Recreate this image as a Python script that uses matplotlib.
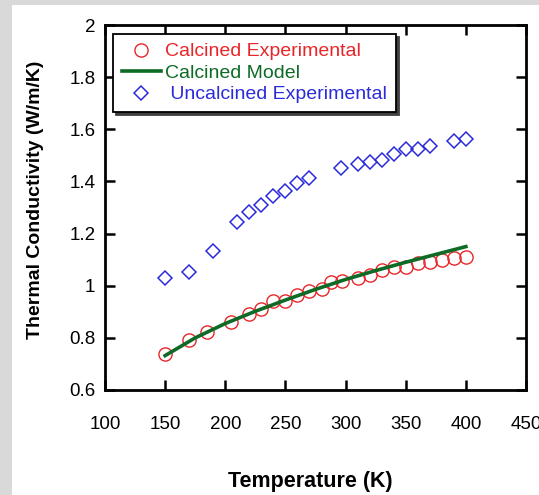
import matplotlib
matplotlib.use("Agg")
import matplotlib.pyplot as plt
from matplotlib.patches import Rectangle
from matplotlib.ticker import FormatStrFormatter

plt.rcParams['font.family'] = ['Liberation Sans', 'DejaVu Sans']

# calcined samples, measured
calc_T = [150, 170, 185, 205, 220, 230, 240, 250, 260, 270, 280, 288,
          297, 310, 320, 330, 340, 350, 360, 370, 380, 390, 400]
calc_k = [0.739, 0.791, 0.821, 0.860, 0.890, 0.909, 0.941, 0.940, 0.963,
          0.981, 0.987, 1.013, 1.020, 1.028, 1.040, 1.061, 1.072, 1.071,
          1.087, 1.092, 1.100, 1.108, 1.112]

# calcined model curve
model_T = [150, 175, 200, 225, 250, 275, 300, 325, 350, 375, 400]
model_k = [0.732, 0.800, 0.855, 0.902, 0.945, 0.986, 1.024, 1.058, 1.090,
           1.120, 1.150]

# uncalcined samples, measured
unc_T = [150, 170, 190, 210, 220, 230, 240, 250, 260, 270, 296, 310, 320,
         330, 340, 350, 360, 370, 390, 400]
unc_k = [1.031, 1.052, 1.132, 1.243, 1.284, 1.311, 1.343, 1.365, 1.393,
         1.414, 1.453, 1.466, 1.474, 1.484, 1.506, 1.523, 1.523, 1.534,
         1.556, 1.564]

x_ticks = [100, 150, 200, 250, 300, 350, 400, 450]
y_ticks = [0.6, 0.8, 1.0, 1.2, 1.4, 1.6, 1.8, 2.0]

labels = ['Calcined Experimental', 'Calcined Model', ' Uncalcined Experimental']
red = '#e8262a'
green = '#0d6b26'
blue = '#2b2bdc'

fig = plt.figure(figsize=(5.39, 4.95), dpi=100, facecolor='#d9d9d9')
# white page area (grey strip left and top like the screenshot)
fig.patches.append(Rectangle((12 / 539, 0), 1, 1 - 5 / 495,
                             transform=fig.transFigure, facecolor='white',
                             edgecolor='none', zorder=-10))

ax = fig.add_axes([105 / 539, 105 / 495, 421 / 539, 365 / 495])

ax.plot(calc_T, calc_k, 'o', ms=9.5, mfc='none', mec=red, mew=1.0,
        label=labels[0], zorder=2)
ax.plot(model_T, model_k, '-', color=green, lw=2.6, label=labels[1], zorder=3)
ax.plot(unc_T, unc_k, 'D', ms=7, mfc='none', mec=blue, mew=1.1,
        label=labels[2], zorder=2)

ax.set_xlim(100, 450)
ax.set_ylim(0.6, 2.0)
ax.set_xticks(x_ticks)
ax.set_yticks(y_ticks)
ax.yaxis.set_major_formatter(FormatStrFormatter('%g'))
ax.tick_params(axis='both', direction='in', length=7, width=1.8,
               top=True, right=True, labelsize=13.5)
ax.tick_params(axis='x', pad=19)
ax.tick_params(axis='y', pad=7)
for sp in ax.spines.values():
    sp.set_linewidth(2)

ax.set_xlabel('Temperature (K)', fontsize=15.5, fontweight='bold')
ax.xaxis.label.set_va('center')
ax.xaxis.set_label_coords(0.487, -0.252)
ax.set_ylabel('Thermal Conductivity (W/m/K)', fontsize=14, fontweight='bold')
ax.yaxis.label.set_va('center')
ax.yaxis.set_label_coords(-0.164, 0.52)

leg = ax.legend(loc='upper left', bbox_to_anchor=(0.019, 0.975),
                borderaxespad=0, fontsize=14, frameon=True, fancybox=False,
                framealpha=1, edgecolor='black', handlelength=2.0,
                handletextpad=0.25, labelspacing=0.2, borderpad=0.45,
                labelcolor=[red, green, blue],
                shadow={'ox': 2, 'oy': -2, 'color': '0.25', 'alpha': 1})
leg.get_frame().set_linewidth(1.3)

fig.savefig('out.png', dpi=100, facecolor=fig.get_facecolor())
